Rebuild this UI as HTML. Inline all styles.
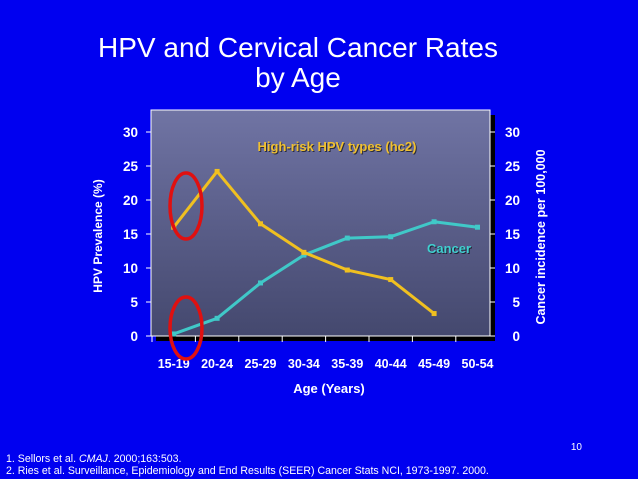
<!DOCTYPE html>
<html><head><meta charset="utf-8"><style>
html,body{margin:0;padding:0;width:638px;height:479px;overflow:hidden;background:#0000f0;font-family:"Liberation Sans",sans-serif;}
</style></head><body>
<svg width="638" height="479" xmlns="http://www.w3.org/2000/svg">
<defs><linearGradient id="pg" x1="0" y1="0" x2="0" y2="1"><stop offset="0" stop-color="#7074a4"/><stop offset="1" stop-color="#44486e"/></linearGradient></defs>
<rect width="638" height="479" fill="#0000f0"/>
<text x="298" y="57" text-anchor="middle" font-size="28" fill="#fff">HPV and Cervical Cancer Rates</text>
<text x="298" y="87" text-anchor="middle" font-size="28" fill="#fff">by Age</text>
<rect x="156" y="115" width="339" height="226" fill="#000"/>
<rect x="151" y="110" width="339" height="226" fill="url(#pg)" stroke="#fff" stroke-width="1"/>
<g id="axes"></g>
<g id="series"></g>
<text x="338" y="152" text-anchor="middle" font-size="13" font-weight="bold" fill="#000" opacity="0.6">High-risk HPV types (hc2)</text>
<text x="337" y="151" text-anchor="middle" font-size="13" font-weight="bold" fill="#f0c030">High-risk HPV types (hc2)</text>
<text x="450" y="254" text-anchor="middle" font-size="13" font-weight="bold" fill="#000" opacity="0.6">Cancer</text>
<text x="449" y="253" text-anchor="middle" font-size="13" font-weight="bold" fill="#40d0d0">Cancer</text>
<text transform="translate(102,236) rotate(-90)" text-anchor="middle" font-size="12" font-weight="bold" fill="#fff">HPV Prevalence (%)</text>
<text transform="translate(545,237) rotate(-90)" text-anchor="middle" font-size="12.5" font-weight="bold" fill="#fff">Cancer incidence per 100,000</text>
<text x="329" y="393" text-anchor="middle" font-size="13" font-weight="bold" fill="#fff">Age (Years)</text>
<ellipse cx="186" cy="206" rx="16" ry="33" fill="none" stroke="#e01010" stroke-width="3.5"/>
<ellipse cx="186" cy="328" rx="16" ry="31" fill="none" stroke="#e01010" stroke-width="3.5"/>
<text x="582" y="450" text-anchor="end" font-size="10" fill="#fff">10</text>
<text x="6" y="462" font-size="10.6" fill="#fff">1. Sellors et al. <tspan font-style="italic">CMAJ</tspan>. 2000;163:503.</text>
<text x="6" y="474" font-size="10.6" fill="#fff">2. Ries et al. Surveillance, Epidemiology and End Results (SEER) Cancer Stats NCI, 1973-1997. 2000.</text>
</svg>
<script>
const categories=["15-19","20-24","25-29","30-34","35-39","40-44","45-49","50-54"];
const hpvValues=[16,24.2,16.5,12.3,9.7,8.3,3.3];
const cancerValues=[0.3,2.6,7.8,11.9,14.4,14.6,16.8,16];
const yTicks=[0,5,10,15,20,25,30];
const NS="http://www.w3.org/2000/svg";
const x0=152,bw=43.4,yBase=336,yTop=132,yMax=30;
function xs(i){return x0+bw*(i+0.5);}
function ys(v){return yBase-(v/yMax)*(yBase-yTop);}
function mk(t,a,p){const e=document.createElementNS(NS,t);for(const k in a)e.setAttribute(k,a[k]);p.appendChild(e);return e;}
const ax=document.getElementById('axes'),sr=document.getElementById('series');
yTicks.forEach(v=>{
 let l=mk('line',{x1:146,x2:151,y1:ys(v),y2:ys(v),stroke:'#fff'},ax);
 
 
 let t=mk('text',{x:138,y:ys(v)+5,'text-anchor':'end','font-size':13.5,'font-weight':'bold',fill:'#fff'},ax);t.textContent=v;
 
 
 let r=mk('line',{x1:490,x2:495,y1:ys(v),y2:ys(v),stroke:'#fff'},ax);
 
 
 let t2=mk('text',{x:520,y:ys(v)+5,'text-anchor':'end','font-size':13.5,'font-weight':'bold',fill:'#fff'},ax);t2.textContent=v;
 
 
});
categories.forEach((c,i)=>{
 let l=mk('line',{x1:x0+bw*i,x2:x0+bw*i,y1:336,y2:342,stroke:'#fff'},ax);
 
 
 let t=mk('text',{x:xs(i),y:368,'text-anchor':'middle','font-size':12.5,'font-weight':'bold',fill:'#fff'},ax);t.textContent=c;
 
 
});
function line(vals,col,name){
 const pts=vals.map((v,i)=>xs(i)+','+ys(v)).join(' ');
 const p=mk('polyline',{points:pts,fill:'none',stroke:col,'stroke-width':3,'stroke-linejoin':'round'},sr);
 
 
 vals.forEach((v,i)=>{const m=mk('rect',{x:xs(i)-2.5,y:ys(v)-2.5,width:5,height:5,fill:col},sr);
  
  });
}
line(cancerValues,'#40c8c8','cancer-line');
line(hpvValues,'#f0c020','hpv-line');
</script>
</body></html>
